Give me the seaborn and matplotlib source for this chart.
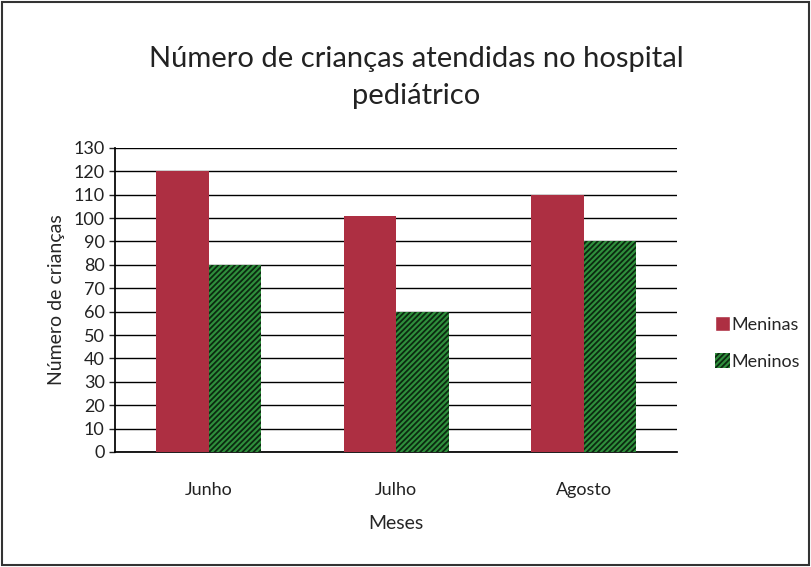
import pandas as pd
import seaborn as sns
from matplotlib import pyplot as plt
from matplotlib.patches import Rectangle, Patch

meses = ['Junho', 'Julho', 'Agosto']
meninas = [120, 101, 110]
meninos = [80, 60, 90]

df = pd.DataFrame({
    'Meses': meses * 2,
    'valor': meninas + meninos,
    'grupo': ['Meninas'] * 3 + ['Meninos'] * 3,
})

sns.set_theme(style='white')
plt.rcParams['font.family'] = ['Lato', 'DejaVu Sans']
plt.rcParams['hatch.color'] = '#0b2a10'
plt.rcParams['hatch.linewidth'] = 1.3

red = '#ad2f42'
green = '#2f8f3c'

fig = plt.figure(figsize=(8.11, 5.67), dpi=100)
ax = fig.add_axes([0.142, 0.203, 0.693, 0.536])

sns.barplot(data=df, x='Meses', y='valor', hue='grupo', order=meses,
            hue_order=['Meninas', 'Meninos'], palette=[red, green],
            width=0.56, saturation=1, linewidth=0, ax=ax, legend=False, zorder=3)

for bar in ax.containers[1]:
    bar.set_hatch('//////')
    bar.set_edgecolor('#0b2a10')
    bar.set_linewidth(0)

ax.set_ylim(0, 130)
ax.set_yticks(range(0, 131, 10))
ax.yaxis.grid(True, color='black', linewidth=1.0, zorder=0)
ax.set_axisbelow(True)
for s in ['top', 'right']:
    ax.spines[s].set_visible(False)
ax.spines['left'].set_color('black')
ax.spines['bottom'].set_color('black')
ax.tick_params(axis='y', labelsize=13, colors='#222222', left=True, length=4, width=1)
ax.tick_params(axis='x', labelsize=13, colors='#222222', pad=16)
ax.set_xlabel('Meses', fontsize=14, labelpad=12)
ax.set_ylabel('Número de crianças', fontsize=14, labelpad=6)

fig.text(0.513, 0.863, 'Número de crianças atendidas no hospital\npediátrico',
         ha='center', va='center', fontsize=21, color='#222222', linespacing=1.55)

handles = [Patch(facecolor=red, label='Meninas'),
           Patch(facecolor=green, hatch='//////', edgecolor='#0b2a10', linewidth=0, label='Meninos')]
fig.legend(handles=handles, loc='center left', bbox_to_anchor=(0.862, 0.395),
           frameon=False, fontsize=13, handlelength=0.8, handleheight=0.9,
           handletextpad=0.1, labelspacing=1.1)

fig.patches.append(Rectangle((0.003, 0.003), 0.994, 0.994, transform=fig.transFigure,
                             fill=False, edgecolor='#333333', linewidth=1.5))

fig.savefig('out.png', dpi=100, facecolor='white')
